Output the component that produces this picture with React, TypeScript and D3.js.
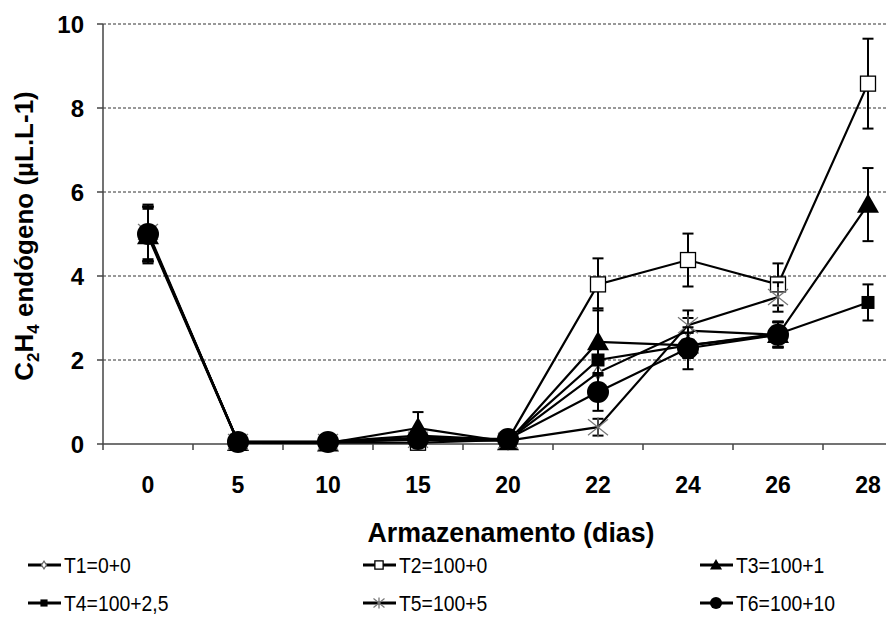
import React from 'react';
import * as d3 from 'd3';

// dias de armazenamento
const days = ['0', '5', '10', '15', '20', '22', '24', '26', '28'];
const yTicks = [0, 2, 4, 6, 8, 10];

// médias (µL.L-1); null = sem leitura
const t1 = [5.0, 0.05, 0.05, 0.2, 0.1, 1.7, 2.7, 2.6, null];
const t2 = [5.0, 0.05, 0.03, 0.03, 0.1, 3.8, 4.38, 3.8, 8.58];
const t3 = [4.95, 0.03, 0.02, 0.38, 0.05, 2.43, 2.35, 2.6, 5.7];
const t4 = [5.0, 0.05, 0.03, 0.15, 0.1, 2.0, 2.35, 2.62, 3.37];
const t5 = [5.05, 0.05, 0.05, 0.1, 0.08, 0.4, 2.83, 3.5, null];
const t6 = [5.0, 0.05, 0.05, 0.12, 0.12, 1.24, 2.28, 2.6, null];

// desvios (barras de erro)
const e1 = [0.65, 0.05, 0.05, 0.1, 0.05, 0.3, 0.3, 0.3, null];
const e2 = [0.65, 0.05, 0.05, 0.05, 0.05, 0.62, 0.63, 0.5, 1.07];
const e3 = [0.65, 0.05, 0.05, 0.38, 0.05, 0.8, 0.3, 0.3, 0.87];
const e4 = [0.65, 0.05, 0.05, 0.1, 0.05, 0.35, 0.3, 0.3, 0.43];
const e5 = [0.65, 0.05, 0.05, 0.1, 0.05, 0.2, 0.35, 0.35, null];
const e6 = [0.65, 0.05, 0.05, 0.1, 0.05, 0.45, 0.5, 0.3, null];

const labels = ['T1=0+0', 'T2=100+0', 'T3=100+1', 'T4=100+2,5', 'T5=100+5', 'T6=100+10'];
const markers = ['diamond', 'openSquare', 'triangle', 'square', 'star', 'circle'];

const series = [t1, t2, t3, t4, t5, t6].map((v, i) => ({
  label: labels[i],
  marker: markers[i],
  values: v,
  errors: [e1, e2, e3, e4, e5, e6][i],
}));

const W = 886;
const H = 637;
const left = 103;
const top = 24;
const bottom = 444;

const Marker = ({ type, cx, cy, scale = 1 }: { type: string; cx: number; cy: number; scale?: number }) => {
  const s = scale;
  if (type === 'diamond') {
    return (
      <path
        d={`M${cx},${cy - 7 * s}L${cx + 4.5 * s},${cy}L${cx},${cy + 7 * s}L${cx - 4.5 * s},${cy}Z`}
        fill="#fff"
        stroke="#666"
        strokeWidth={1.2}
      />
    );
  }
  if (type === 'openSquare') {
    const h = 7.5 * s;
    return <rect x={cx - h} y={cy - h} width={2 * h} height={2 * h} fill="#fff" stroke="#000" strokeWidth={1.3} />;
  }
  if (type === 'triangle') {
    const r = 11 * s;
    return <path d={`M${cx},${cy - r}L${cx + r},${cy + r * 0.75}L${cx - r},${cy + r * 0.75}Z`} fill="#000" />;
  }
  if (type === 'square') {
    const h = 6.5 * s;
    return <rect x={cx - h} y={cy - h} width={2 * h} height={2 * h} fill="#000" />;
  }
  if (type === 'star') {
    const r = 10 * s;
    return (
      <g stroke="#777" strokeWidth={1.3}>
        <line x1={cx - r} y1={cy - r * 0.8} x2={cx + r} y2={cy + r * 0.8} />
        <line x1={cx - r} y1={cy + r * 0.8} x2={cx + r} y2={cy - r * 0.8} />
        <line x1={cx} y1={cy - r} x2={cx} y2={cy + r} />
      </g>
    );
  }
  return <circle cx={cx} cy={cy} r={11 * s} fill="#000" />;
};

export default function App() {
  const x = d3.scaleBand<string>().domain(days).range([left, left + 90 * days.length]).padding(0);
  const y = d3.scaleLinear().domain([0, 10]).range([bottom, top]);
  const cx = (d: string) => (x(d) as number) + x.bandwidth() / 2;

  const line = d3
    .line<number | null>()
    .defined((v) => v !== null)
    .x((_, i) => cx(days[i]))
    .y((v) => y(v as number));

  const legendCols = [28, 363, 700];
  const legendRows = [565, 603];

  return (
    <svg
      width={W}
      height={H}
      style={{ position: 'absolute', left: 0, top: 0, background: '#fff' }}
      fontFamily="'Liberation Sans', Arial, sans-serif"
    >
      {/* grade */}
      {yTicks.filter((t) => t > 0).map((t) => (
        <line key={t} x1={left} x2={W} y1={y(t)} y2={y(t)} stroke="#333" strokeWidth={1} strokeDasharray="3,2" />
      ))}
      {/* eixos */}
      <line x1={left} x2={left} y1={top} y2={bottom} stroke="#444" strokeWidth={1.5} />
      <line x1={left} x2={W} y1={bottom} y2={bottom} stroke="#444" strokeWidth={1.5} />
      {yTicks.map((t) => (
        <g key={t}>
          <line x1={left - 6} x2={left} y1={y(t)} y2={y(t)} stroke="#444" strokeWidth={1.5} />
          <text x={84} y={y(t)} dy="0.36em" textAnchor="end" fontSize={24} fontWeight="bold">
            {t}
          </text>
        </g>
      ))}
      {days.map((d) => (
        <g key={d}>
          <line x1={x(d)!} x2={x(d)!} y1={bottom} y2={bottom + 6} stroke="#444" strokeWidth={1.5} />
          <text x={cx(d)} y={493} textAnchor="middle" fontSize={23} fontWeight="bold">
            {d}
          </text>
        </g>
      ))}
      <text
        x={511}
        y={542}
        textAnchor="middle"
        fontSize={27}
        fontWeight="bold"
        textLength={287}
        lengthAdjust="spacingAndGlyphs"
      >
        Armazenamento (dias)
      </text>
      <text transform="translate(33,236) rotate(-90)" textAnchor="middle" fontSize={26} fontWeight="bold">
        C<tspan fontSize={17} dy={6}>2</tspan>
        <tspan dy={-6}>H</tspan>
        <tspan fontSize={17} dy={6}>4</tspan>
        <tspan dy={-6}> endógeno (µL.L-1)</tspan>
      </text>

      {/* séries */}
      {series.map((s) => (
        <g key={s.label}>
          <path d={line(s.values) || ''} fill="none" stroke="#000" strokeWidth={2.2} />
          {s.values.map((v, i) => {
            if (v === null) return null;
            const e = s.errors[i] as number;
            const px = cx(days[i]);
            return (
              <g key={i} stroke="#000" strokeWidth={2}>
                <line x1={px} x2={px} y1={y(v + e)} y2={y(Math.max(0, v - e))} />
                <line x1={px - 5.5} x2={px + 5.5} y1={y(v + e)} y2={y(v + e)} />
                <line x1={px - 5.5} x2={px + 5.5} y1={y(Math.max(0, v - e))} y2={y(Math.max(0, v - e))} />
              </g>
            );
          })}
          {s.values.map((v, i) =>
            v === null ? null : <Marker key={i} type={s.marker} cx={cx(days[i])} cy={y(v)} />
          )}
        </g>
      ))}

      {/* legenda */}
      {series.map((s, i) => {
        const lx = legendCols[i % 3];
        const ly = legendRows[Math.floor(i / 3)];
        return (
          <g key={s.label}>
            <line x1={lx} x2={lx + 33} y1={ly} y2={ly} stroke="#000" strokeWidth={2.8} />
            <Marker type={s.marker} cx={lx + 16} cy={ly} scale={0.55} />
            <text
              transform={`translate(${lx + 36},${ly}) scale(0.88,1)`}
              dy="0.36em"
              fontSize={22}
            >
              {s.label}
            </text>
          </g>
        );
      })}
    </svg>
  );
}
